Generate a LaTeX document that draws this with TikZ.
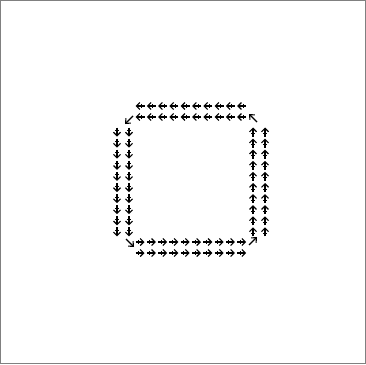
\documentclass[tikz,border=0pt]{standalone}
\usetikzlibrary{arrows.meta}
\begin{document}
\begin{tikzpicture}[x=1pt,y=-1pt,
  arr/.style={line width=1.1pt,-{Straight Barb[length=3.5pt,width=7pt]}},
  tick/.style={line width=1pt},
  diag/.style={line width=1.1pt,-{Straight Barb[length=4pt,width=7pt]}}]
\useasboundingbox (0,0) rectangle (366,364);
\draw[gray, line width=0.9pt] (0.5,0.5) rectangle (365.5,363.5);
% top rows: left arrows
\foreach \y in {106,117}{
  \foreach \k in {0,...,9}{
    \pgfmathsetmacro{\cx}{140+11.3*\k}
    \draw[arr] (\cx+4.5,\y) -- (\cx-4.5,\y);
    \draw[tick] (\cx+1.5,\y-2.2) -- (\cx+1.5,\y+2.2);
  }
}
% bottom rows: right arrows
\foreach \y in {242,253}{
  \foreach \k in {0,...,9}{
    \pgfmathsetmacro{\cx}{140+11.3*\k}
    \draw[arr] (\cx-4.5,\y) -- (\cx+4.5,\y);
    \draw[tick] (\cx-1.5,\y-2.2) -- (\cx-1.5,\y+2.2);
  }
}
% left columns: down arrows
\foreach \x in {117,129}{
  \foreach \k in {0,...,9}{
    \pgfmathsetmacro{\cy}{132+11.1*\k}
    \draw[arr] (\x,\cy-4.5) -- (\x,\cy+4.5);
    \draw[tick] (\x-2.2,\cy-1.5) -- (\x+2.2,\cy-1.5);
  }
}
% right columns: up arrows
\foreach \x in {253,265}{
  \foreach \k in {0,...,9}{
    \pgfmathsetmacro{\cy}{132+11.1*\k}
    \draw[arr] (\x,\cy+4.5) -- (\x,\cy-4.5);
    \draw[tick] (\x-2.2,\cy+1.5) -- (\x+2.2,\cy+1.5);
  }
}
% corners
\draw[diag] (133,116) -- (125,124);
\draw[diag] (257,122) -- (249,114);
\draw[diag] (126,239) -- (134,247);
\draw[diag] (249,245) -- (257,237);
\end{tikzpicture}
\end{document}
